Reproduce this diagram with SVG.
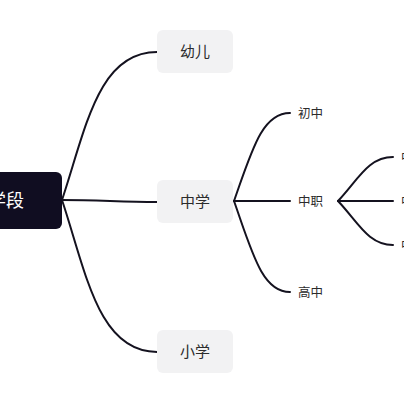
<svg xmlns="http://www.w3.org/2000/svg" width="404" height="404" viewBox="0 0 404 404">
<style>
.ln{fill:none;stroke:#14121f;stroke-width:2;stroke-linecap:round}
.box{fill:#f2f2f3}
.t{font-family:"Noto Sans CJK SC","Noto Sans",sans-serif;fill:#2b2b2b}
.b{font-size:15px;text-anchor:middle}
.s{font-size:12.5px}
</style>
<rect width="404" height="404" fill="#ffffff"/>
<g id="connectors">
<path class="ln" d="M62,200 C86,128 98,52 157,52"/>
<path class="ln" d="M62,200 C100,200 120,202 157,202"/>
<path class="ln" d="M62,200 C86,272 98,352 157,352"/>
<path class="ln" d="M234,201 C252,150 262,113 290,113"/>
<path class="ln" d="M234,201 L290,201"/>
<path class="ln" d="M234,201 C252,252 262,292 290,292"/>
<path class="ln" d="M338,201 C358,180 368,157 393,157"/>
<path class="ln" d="M338,201 L393,201"/>
<path class="ln" d="M338,201 C358,222 368,245 393,245"/>
</g>
<g id="root">
<rect x="-20" y="172" width="82" height="57" rx="6" fill="#100d21"/>
<text class="t" x="24" y="207" font-size="18" text-anchor="end" fill="#ffffff" style="fill:#ffffff">学段</text>
</g>
<g id="n-youer">
<rect class="box" x="157" y="30" width="76" height="43" rx="6"/>
<text class="t b" x="195" y="57">幼儿</text>
</g>
<g id="n-zhongxue">
<rect class="box" x="157" y="180" width="76" height="43" rx="6"/>
<text class="t b" x="195" y="207">中学</text>
</g>
<g id="n-xiaoxue">
<rect class="box" x="157" y="330" width="76" height="43" rx="6"/>
<text class="t b" x="195" y="357">小学</text>
</g>
<g id="n-chuzhong"><text class="t s" x="298" y="118">初中</text></g>
<g id="n-zhongzhi"><text class="t s" x="298" y="206">中职</text></g>
<g id="n-gaozhong"><text class="t s" x="298" y="297">高中</text></g>
<g id="n-leaf1"><text class="t s" x="401" y="162">中</text></g>
<g id="n-leaf2"><text class="t s" x="401" y="206">中</text></g>
<g id="n-leaf3"><text class="t s" x="401" y="250">中</text></g>
</svg>
